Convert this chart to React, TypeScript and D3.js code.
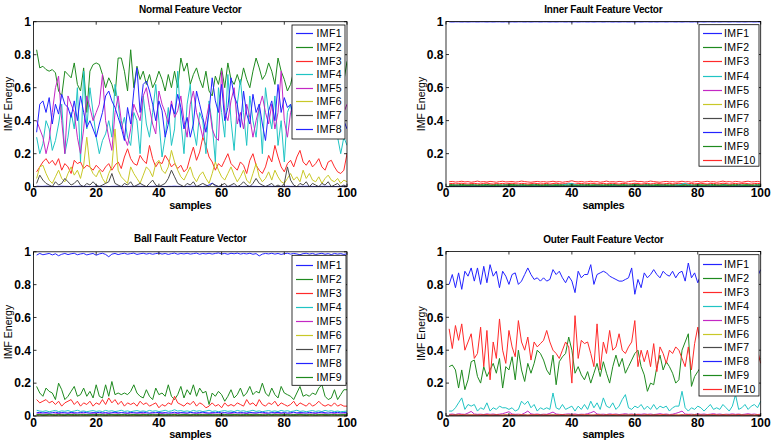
import React from 'react';
import * as d3 from 'd3';

// ---------------- DATA ----------------
const X_TICKS = [0, 20, 40, 60, 80, 100];
const Y_TICKS = [0, 0.2, 0.4, 0.6, 0.8, 1];
const Y_TICK_LABELS = ['0', '0.2', '0.4', '0.6', '0.8', '1'];
const IMF_LABELS = ['IMF1', 'IMF2', 'IMF3', 'IMF4', 'IMF5', 'IMF6', 'IMF7', 'IMF8', 'IMF9', 'IMF10'];
const TITLES = ['Normal Feature Vector', 'Inner Fault Feature Vector', 'Ball Fault Feature Vector', 'Outer Fault Feature Vector'];

// Normal
const normalIMF1 = [
  0.003,0.002,0.002,0.003,0.002,0.002,0.001,0.002,0.003,0.002,
  0.002,0.001,0.002,0.002,0.003,0.002,0.002,0.001,0.002,0.002,
  0.003,0.002,0.002,0.001,0.002,0.002,0.003,0.002,0.002,0.001,
  0.002,0.002,0.003,0.002,0.002,0.001,0.002,0.002,0.003,0.002,
  0.002,0.001,0.002,0.002,0.003,0.002,0.002,0.001,0.002,0.002,
  0.003,0.002,0.002,0.001,0.004,0.010,0.022,0.006,0.002,0.001,
  0.002,0.002,0.003,0.002,0.002,0.001,0.002,0.002,0.003,0.002,
  0.002,0.001,0.002,0.002,0.003,0.002,0.002,0.001,0.002,0.002,
  0.003,0.002,0.002,0.001,0.002,0.002,0.003,0.002,0.002,0.001,
  0.002,0.002,0.003,0.002,0.002,0.001,0.002,0.002,0.003,0.002];
const normalIMF2 = [
  0.83,0.72,0.73,0.71,0.70,0.71,0.69,0.58,0.55,0.70,
  0.68,0.66,0.75,0.62,0.58,0.72,0.45,0.70,0.74,0.75,
  0.74,0.68,0.60,0.66,0.62,0.55,0.78,0.78,0.70,0.58,
  0.83,0.60,0.73,0.65,0.70,0.62,0.68,0.60,0.64,0.70,
  0.65,0.58,0.68,0.60,0.70,0.60,0.78,0.70,0.75,0.62,
  0.68,0.72,0.65,0.60,0.70,0.58,0.55,0.67,0.62,0.72,
  0.60,0.75,0.65,0.62,0.68,0.62,0.72,0.65,0.60,0.70,
  0.78,0.72,0.65,0.68,0.75,0.70,0.62,0.78,0.70,0.65,
  0.58,0.62,0.70,0.65,0.60,0.68,0.72,0.62,0.66,0.70,
  0.64,0.68,0.60,0.72,0.66,0.62,0.70,0.58,0.64,0.76];
const normalIMF3 = [
  0.09,0.12,0.15,0.17,0.14,0.16,0.13,0.17,0.10,0.14,
  0.12,0.08,0.16,0.14,0.15,0.11,0.13,0.12,0.10,0.13,
  0.11,0.09,0.12,0.14,0.10,0.13,0.15,0.11,0.18,0.23,
  0.17,0.14,0.13,0.19,0.16,0.14,0.25,0.17,0.12,0.15,
  0.14,0.19,0.16,0.12,0.14,0.11,0.13,0.09,0.11,0.18,
  0.24,0.16,0.21,0.30,0.25,0.18,0.15,0.10,0.14,0.12,
  0.16,0.20,0.14,0.12,0.10,0.15,0.13,0.08,0.16,0.20,
  0.13,0.10,0.08,0.12,0.19,0.15,0.25,0.18,0.12,0.09,
  0.14,0.16,0.12,0.18,0.22,0.15,0.13,0.16,0.12,0.14,
  0.17,0.12,0.10,0.15,0.16,0.12,0.09,0.08,0.10,0.20];
const normalIMF4 = [
  0.30,0.20,0.26,0.40,0.35,0.22,0.28,0.38,0.50,0.20,
  0.30,0.45,0.35,0.60,0.15,0.70,0.35,0.60,0.45,0.30,
  0.20,0.28,0.32,0.40,0.30,0.62,0.50,0.35,0.42,0.30,
  0.25,0.45,0.40,0.20,0.55,0.38,0.30,0.45,0.62,0.40,
  0.18,0.30,0.48,0.25,0.35,0.70,0.40,0.20,0.50,0.62,
  0.35,0.25,0.45,0.40,0.20,0.52,0.38,0.15,0.60,0.45,
  0.30,0.68,0.40,0.22,0.50,0.65,0.45,0.25,0.55,0.40,
  0.30,0.50,0.20,0.60,0.45,0.35,0.55,0.25,0.40,0.15,
  0.45,0.50,0.35,0.40,0.30,0.45,0.38,0.32,0.42,0.36,
  0.40,0.30,0.38,0.45,0.35,0.40,0.30,0.20,0.30,0.25];
const normalIMF5 = [
  0.40,0.35,0.30,0.20,0.28,0.45,0.60,0.67,0.40,0.20,
  0.55,0.50,0.45,0.30,0.20,0.35,0.55,0.48,0.40,0.45,
  0.50,0.68,0.40,0.30,0.22,0.45,0.55,0.40,0.30,0.25,
  0.35,0.50,0.45,0.40,0.55,0.60,0.48,0.38,0.32,0.58,
  0.50,0.45,0.38,0.52,0.42,0.46,0.55,0.40,0.30,0.50,
  0.58,0.45,0.38,0.30,0.40,0.50,0.35,0.30,0.28,0.70,
  0.45,0.40,0.52,0.60,0.38,0.45,0.35,0.50,0.42,0.30,
  0.40,0.48,0.55,0.45,0.38,0.50,0.35,0.45,0.70,0.40,
  0.30,0.45,0.50,0.38,0.42,0.50,0.46,0.40,0.35,0.48,
  0.44,0.40,0.52,0.36,0.42,0.48,0.40,0.38,0.45,0.50];
const normalIMF6 = [
  0.05,0.12,0.13,0.08,0.04,0.02,0.06,0.10,0.05,0.03,
  0.08,0.12,0.07,0.10,0.05,0.13,0.30,0.12,0.08,0.06,
  0.10,0.05,0.02,0.08,0.12,0.35,0.10,0.06,0.04,0.02,
  0.12,0.08,0.05,0.02,0.07,0.12,0.10,0.06,0.14,0.16,
  0.10,0.08,0.12,0.22,0.15,0.10,0.06,0.04,0.08,0.12,
  0.06,0.03,0.07,0.09,0.05,0.02,0.08,0.15,0.10,0.06,
  0.04,0.08,0.12,0.07,0.03,0.06,0.10,0.04,0.02,0.08,
  0.14,0.06,0.03,0.05,0.09,0.04,0.10,0.06,0.03,0.02,
  0.05,0.08,0.04,0.06,0.03,0.10,0.05,0.08,0.04,0.03,
  0.06,0.02,0.05,0.07,0.04,0.03,0.05,0.02,0.04,0.03];
const normalIMF7 = [
  0.02,0.07,0.04,0.02,0.01,0.00,0.03,0.01,0.02,0.05,
  0.03,0.01,0.02,0.04,0.01,0.00,0.02,0.01,0.03,0.01,
  0.00,0.01,0.02,0.03,0.08,0.02,0.01,0.00,0.02,0.01,
  0.03,0.00,0.01,0.02,0.01,0.00,0.02,0.04,0.01,0.00,
  0.01,0.02,0.05,0.10,0.06,0.02,0.01,0.00,0.02,0.01,
  0.03,0.00,0.01,0.02,0.01,0.00,0.02,0.01,0.00,0.01,
  0.02,0.00,0.01,0.02,0.00,0.01,0.03,0.01,0.00,0.02,
  0.05,0.02,0.01,0.00,0.01,0.02,0.00,0.01,0.00,0.02,
  0.12,0.04,0.01,0.00,0.02,0.01,0.03,0.00,0.02,0.01,
  0.00,0.02,0.01,0.03,0.00,0.01,0.02,0.00,0.01,0.00];
const normalIMF8 = [
  0.33,0.50,0.52,0.45,0.54,0.38,0.50,0.44,0.56,0.50,
  0.48,0.42,0.52,0.40,0.55,0.45,0.36,0.40,0.35,0.30,
  0.38,0.45,0.55,0.58,0.52,0.48,0.42,0.36,0.28,0.48,
  0.38,0.58,0.72,0.45,0.62,0.64,0.58,0.50,0.40,0.52,
  0.46,0.30,0.38,0.50,0.44,0.56,0.48,0.35,0.42,0.30,
  0.38,0.58,0.50,0.42,0.33,0.45,0.66,0.52,0.45,0.62,
  0.40,0.48,0.66,0.55,0.50,0.36,0.58,0.44,0.38,0.56,
  0.45,0.50,0.38,0.28,0.46,0.52,0.40,0.62,0.45,0.54,
  0.48,0.50,0.42,0.48,0.45,0.50,0.46,0.52,0.44,0.48,
  0.50,0.46,0.42,0.50,0.48,0.44,0.46,0.50,0.40,0.35];

// Inner fault
const innerIMF1 = [
  0.998,0.997,0.998,0.998,0.997,0.998,0.997,0.998,0.998,0.997,
  0.998,0.998,0.997,0.998,0.997,0.998,0.998,0.997,0.998,0.997,
  0.998,0.997,0.998,0.998,0.997,0.998,0.997,0.998,0.998,0.997,
  0.998,0.998,0.997,0.998,0.997,0.998,0.998,0.997,0.998,0.997,
  0.998,0.997,0.998,0.998,0.997,0.998,0.997,0.998,0.998,0.997,
  0.998,0.998,0.997,0.998,0.997,0.998,0.998,0.997,0.998,0.997,
  0.998,0.997,0.998,0.998,0.997,0.998,0.997,0.998,0.998,0.997,
  0.998,0.998,0.997,0.998,0.997,0.998,0.998,0.997,0.998,0.997,
  0.998,0.997,0.998,0.998,0.997,0.998,0.997,0.998,0.998,0.997,
  0.998,0.998,0.997,0.998,0.997,0.998,0.998,0.997,0.998,0.997];
const innerIMF2 = [
  0.012,0.013,0.011,0.012,0.014,0.012,0.011,0.013,0.012,0.011,
  0.013,0.012,0.014,0.011,0.012,0.013,0.012,0.011,0.013,0.012,
  0.014,0.012,0.011,0.013,0.012,0.011,0.013,0.012,0.014,0.011,
  0.012,0.013,0.012,0.011,0.013,0.012,0.014,0.012,0.011,0.013,
  0.012,0.011,0.013,0.012,0.014,0.011,0.012,0.013,0.012,0.011,
  0.013,0.012,0.014,0.012,0.011,0.013,0.012,0.011,0.013,0.012,
  0.014,0.011,0.012,0.013,0.012,0.011,0.013,0.012,0.014,0.012,
  0.011,0.013,0.012,0.011,0.013,0.012,0.014,0.011,0.012,0.013,
  0.012,0.011,0.013,0.012,0.014,0.012,0.011,0.013,0.012,0.011,
  0.013,0.012,0.014,0.011,0.012,0.013,0.012,0.011,0.013,0.012];
const innerIMF3 = [
  0.018,0.020,0.017,0.019,0.021,0.018,0.016,0.019,0.020,0.018,
  0.017,0.020,0.022,0.018,0.016,0.019,0.018,0.020,0.017,0.019,
  0.021,0.018,0.017,0.020,0.019,0.016,0.018,0.021,0.019,0.017,
  0.018,0.020,0.016,0.019,0.021,0.018,0.017,0.019,0.022,0.018,
  0.016,0.019,0.020,0.017,0.018,0.021,0.019,0.016,0.018,0.020,
  0.017,0.019,0.021,0.018,0.016,0.020,0.019,0.017,0.018,0.021,
  0.019,0.016,0.018,0.020,0.017,0.019,0.022,0.018,0.016,0.019,
  0.020,0.017,0.018,0.021,0.019,0.016,0.018,0.020,0.017,0.019,
  0.021,0.018,0.016,0.019,0.020,0.017,0.018,0.021,0.019,0.016,
  0.018,0.020,0.017,0.019,0.021,0.018,0.016,0.019,0.020,0.018];
const innerIMF4 = [
  0.008,0.007,0.009,0.008,0.006,0.008,0.009,0.007,0.008,0.006,
  0.008,0.009,0.007,0.008,0.006,0.009,0.008,0.007,0.009,0.008,
  0.006,0.008,0.009,0.007,0.008,0.006,0.008,0.009,0.007,0.008,
  0.006,0.009,0.008,0.007,0.009,0.008,0.010,0.014,0.018,0.020,
  0.012,0.008,0.007,0.009,0.008,0.006,0.008,0.009,0.007,0.008,
  0.006,0.008,0.009,0.007,0.008,0.006,0.009,0.008,0.007,0.009,
  0.008,0.006,0.008,0.009,0.007,0.008,0.006,0.008,0.009,0.007,
  0.008,0.006,0.009,0.010,0.016,0.020,0.012,0.008,0.007,0.009,
  0.008,0.006,0.008,0.009,0.007,0.008,0.006,0.008,0.009,0.007,
  0.008,0.006,0.009,0.008,0.007,0.009,0.008,0.006,0.008,0.009];
const innerIMF5 = [
  0.004,0.005,0.003,0.004,0.005,0.004,0.003,0.004,0.005,0.004,
  0.003,0.004,0.005,0.004,0.003,0.005,0.004,0.003,0.004,0.005,
  0.004,0.003,0.004,0.005,0.004,0.003,0.005,0.004,0.003,0.004,
  0.005,0.004,0.003,0.004,0.005,0.004,0.003,0.005,0.004,0.003,
  0.004,0.005,0.004,0.003,0.004,0.005,0.004,0.003,0.005,0.004,
  0.003,0.004,0.005,0.004,0.003,0.004,0.005,0.004,0.003,0.005,
  0.004,0.003,0.004,0.005,0.004,0.003,0.005,0.004,0.003,0.004,
  0.005,0.004,0.003,0.004,0.005,0.004,0.003,0.005,0.004,0.003,
  0.004,0.005,0.004,0.003,0.004,0.005,0.004,0.003,0.005,0.004,
  0.003,0.004,0.005,0.004,0.003,0.004,0.005,0.004,0.003,0.004];
const innerIMF6 = [
  0.003,0.002,0.003,0.003,0.002,0.003,0.002,0.003,0.003,0.002,
  0.003,0.003,0.002,0.003,0.002,0.003,0.003,0.002,0.003,0.002,
  0.003,0.002,0.003,0.003,0.002,0.003,0.002,0.003,0.003,0.002,
  0.003,0.003,0.002,0.003,0.002,0.003,0.003,0.002,0.003,0.002,
  0.003,0.002,0.003,0.003,0.002,0.003,0.002,0.003,0.003,0.002,
  0.003,0.003,0.002,0.003,0.002,0.003,0.003,0.002,0.003,0.002,
  0.003,0.002,0.003,0.003,0.002,0.003,0.002,0.003,0.003,0.002,
  0.003,0.003,0.002,0.003,0.002,0.003,0.003,0.002,0.003,0.002,
  0.003,0.002,0.003,0.003,0.002,0.003,0.002,0.003,0.003,0.002,
  0.003,0.003,0.002,0.003,0.002,0.003,0.003,0.002,0.003,0.002];
const innerIMF7 = [
  0.002,0.001,0.002,0.002,0.001,0.002,0.001,0.002,0.002,0.001,
  0.002,0.002,0.001,0.002,0.001,0.002,0.002,0.001,0.002,0.001,
  0.002,0.001,0.002,0.002,0.001,0.002,0.001,0.002,0.002,0.001,
  0.002,0.002,0.001,0.002,0.001,0.002,0.002,0.001,0.002,0.001,
  0.002,0.001,0.002,0.002,0.001,0.002,0.001,0.002,0.002,0.001,
  0.002,0.002,0.001,0.002,0.001,0.002,0.002,0.001,0.002,0.001,
  0.002,0.001,0.002,0.002,0.001,0.002,0.001,0.002,0.002,0.001,
  0.002,0.002,0.001,0.002,0.001,0.002,0.002,0.001,0.002,0.001,
  0.002,0.001,0.002,0.002,0.001,0.002,0.001,0.002,0.002,0.001,
  0.002,0.002,0.001,0.002,0.001,0.002,0.002,0.001,0.002,0.001];
const innerIMF8 = [
  0.003,0.003,0.004,0.003,0.003,0.004,0.003,0.003,0.004,0.003,
  0.003,0.004,0.003,0.003,0.004,0.003,0.003,0.004,0.003,0.003,
  0.004,0.003,0.003,0.004,0.003,0.003,0.004,0.003,0.003,0.004,
  0.003,0.003,0.004,0.003,0.003,0.004,0.003,0.003,0.004,0.003,
  0.003,0.004,0.003,0.003,0.004,0.003,0.003,0.004,0.003,0.003,
  0.004,0.003,0.003,0.004,0.003,0.003,0.004,0.003,0.003,0.004,
  0.003,0.003,0.004,0.003,0.003,0.004,0.003,0.003,0.004,0.003,
  0.003,0.004,0.003,0.003,0.004,0.003,0.003,0.004,0.003,0.003,
  0.004,0.003,0.003,0.004,0.003,0.003,0.004,0.003,0.003,0.004,
  0.003,0.003,0.004,0.003,0.003,0.004,0.003,0.003,0.004,0.003];
const innerIMF9 = [
  0.006,0.007,0.006,0.005,0.007,0.006,0.008,0.006,0.005,0.007,
  0.006,0.007,0.005,0.006,0.008,0.006,0.007,0.005,0.006,0.007,
  0.006,0.008,0.006,0.005,0.007,0.006,0.007,0.005,0.006,0.008,
  0.006,0.007,0.005,0.006,0.007,0.006,0.008,0.006,0.005,0.007,
  0.006,0.007,0.005,0.006,0.008,0.006,0.007,0.005,0.006,0.007,
  0.006,0.008,0.006,0.005,0.007,0.006,0.007,0.005,0.006,0.008,
  0.006,0.007,0.005,0.006,0.007,0.006,0.008,0.006,0.005,0.007,
  0.006,0.007,0.005,0.006,0.008,0.006,0.007,0.005,0.006,0.007,
  0.006,0.008,0.006,0.005,0.007,0.006,0.007,0.005,0.006,0.008,
  0.006,0.007,0.005,0.006,0.007,0.006,0.008,0.006,0.005,0.007];
const innerIMF10 = [
  0.030,0.032,0.028,0.030,0.033,0.029,0.031,0.027,0.030,0.034,
  0.029,0.031,0.028,0.032,0.030,0.027,0.031,0.033,0.029,0.030,
  0.032,0.028,0.030,0.034,0.031,0.029,0.027,0.030,0.032,0.029,
  0.031,0.028,0.030,0.033,0.029,0.031,0.027,0.030,0.032,0.036,
  0.031,0.029,0.032,0.028,0.030,0.033,0.029,0.031,0.027,0.030,
  0.034,0.029,0.031,0.028,0.032,0.030,0.027,0.031,0.033,0.035,
  0.030,0.032,0.028,0.030,0.034,0.031,0.029,0.027,0.030,0.032,
  0.029,0.031,0.028,0.030,0.033,0.029,0.031,0.027,0.030,0.032,
  0.028,0.030,0.033,0.029,0.031,0.027,0.030,0.034,0.029,0.031,
  0.028,0.032,0.030,0.027,0.031,0.033,0.029,0.030,0.032,0.028];

// Ball fault
const ballIMF1 = [
  0.980,0.990,0.982,0.986,0.990,0.981,0.988,0.976,0.985,0.990,
  0.983,0.988,0.991,0.982,0.987,0.990,0.981,0.986,0.990,0.979,
  0.987,0.991,0.984,0.970,0.986,0.990,0.983,0.988,0.991,0.985,
  0.989,0.992,0.984,0.988,0.991,0.986,0.990,0.985,0.989,0.992,
  0.986,0.990,0.984,0.989,0.992,0.985,0.990,0.987,0.991,0.986,
  0.989,0.992,0.985,0.990,0.987,0.991,0.986,0.990,0.993,0.987,
  0.990,0.985,0.991,0.988,0.992,0.986,0.990,0.987,0.991,0.985,
  0.989,0.975,0.986,0.990,0.987,0.991,0.986,0.990,0.984,0.989,
  0.991,0.986,0.990,0.987,0.982,0.989,0.991,0.986,0.990,0.984,
  0.988,0.991,0.985,0.989,0.983,0.990,0.986,0.989,0.984,0.988];
const ballIMF2 = [
  0.18,0.14,0.12,0.17,0.15,0.14,0.10,0.20,0.16,0.10,
  0.12,0.15,0.18,0.12,0.13,0.17,0.12,0.15,0.11,0.19,
  0.12,0.11,0.19,0.12,0.21,0.13,0.14,0.13,0.14,0.13,
  0.15,0.19,0.14,0.12,0.11,0.16,0.12,0.10,0.17,0.13,
  0.14,0.12,0.19,0.12,0.10,0.13,0.18,0.11,0.16,0.13,
  0.19,0.12,0.17,0.14,0.15,0.07,0.14,0.12,0.15,0.13,
  0.09,0.12,0.16,0.11,0.13,0.17,0.12,0.14,0.18,0.13,
  0.15,0.14,0.20,0.14,0.12,0.17,0.13,0.11,0.18,0.14,
  0.13,0.12,0.10,0.14,0.18,0.12,0.13,0.12,0.14,0.13,
  0.17,0.19,0.12,0.10,0.11,0.16,0.10,0.13,0.16,0.16];
const ballIMF3 = [
  0.10,0.08,0.09,0.10,0.08,0.09,0.07,0.09,0.06,0.08,
  0.09,0.10,0.07,0.09,0.06,0.08,0.07,0.09,0.06,0.08,
  0.07,0.10,0.07,0.11,0.08,0.10,0.07,0.09,0.06,0.08,
  0.07,0.08,0.06,0.09,0.07,0.08,0.06,0.07,0.08,0.05,
  0.07,0.06,0.08,0.07,0.12,0.08,0.07,0.06,0.08,0.07,
  0.09,0.06,0.08,0.07,0.05,0.06,0.08,0.06,0.07,0.05,
  0.08,0.06,0.07,0.06,0.08,0.07,0.06,0.10,0.07,0.08,
  0.06,0.10,0.07,0.06,0.08,0.07,0.09,0.06,0.08,0.07,
  0.06,0.07,0.09,0.06,0.08,0.07,0.06,0.08,0.06,0.07,
  0.09,0.07,0.06,0.07,0.06,0.08,0.06,0.07,0.06,0.06];
const ballIMF4 = [
  0.035,0.030,0.028,0.032,0.026,0.030,0.034,0.027,0.031,0.029,
  0.033,0.027,0.030,0.035,0.028,0.031,0.026,0.030,0.033,0.028,
  0.031,0.027,0.034,0.029,0.032,0.027,0.030,0.035,0.028,0.031,
  0.026,0.030,0.033,0.028,0.031,0.027,0.034,0.029,0.032,0.027,
  0.030,0.035,0.028,0.031,0.038,0.030,0.033,0.028,0.031,0.027,
  0.034,0.029,0.032,0.027,0.030,0.035,0.028,0.031,0.026,0.030,
  0.033,0.028,0.031,0.027,0.034,0.029,0.032,0.027,0.030,0.035,
  0.028,0.031,0.026,0.030,0.033,0.028,0.031,0.027,0.034,0.029,
  0.032,0.027,0.030,0.035,0.028,0.031,0.026,0.030,0.033,0.028,
  0.031,0.027,0.034,0.029,0.032,0.027,0.030,0.026,0.028,0.030];
const ballIMF5 = [
  0.012,0.014,0.011,0.013,0.012,0.010,0.013,0.015,0.012,0.011,
  0.013,0.012,0.014,0.011,0.012,0.013,0.010,0.012,0.014,0.012,
  0.011,0.013,0.012,0.015,0.011,0.012,0.013,0.010,0.012,0.014,
  0.012,0.011,0.013,0.012,0.014,0.011,0.012,0.013,0.010,0.012,
  0.014,0.012,0.011,0.013,0.012,0.015,0.011,0.012,0.013,0.010,
  0.012,0.014,0.012,0.011,0.013,0.012,0.014,0.011,0.012,0.013,
  0.010,0.012,0.014,0.012,0.011,0.013,0.012,0.015,0.011,0.012,
  0.013,0.010,0.012,0.014,0.012,0.011,0.013,0.012,0.014,0.011,
  0.012,0.013,0.010,0.012,0.014,0.012,0.011,0.013,0.012,0.015,
  0.011,0.012,0.013,0.010,0.012,0.014,0.012,0.011,0.013,0.012];
const ballIMF6 = [
  0.004,0.005,0.004,0.003,0.005,0.004,0.004,0.005,0.003,0.004,
  0.005,0.004,0.003,0.004,0.005,0.004,0.004,0.003,0.005,0.004,
  0.004,0.005,0.003,0.004,0.005,0.004,0.003,0.004,0.005,0.004,
  0.004,0.003,0.005,0.004,0.004,0.005,0.003,0.004,0.005,0.004,
  0.003,0.004,0.005,0.004,0.004,0.003,0.005,0.004,0.004,0.005,
  0.003,0.004,0.005,0.004,0.003,0.004,0.005,0.004,0.004,0.003,
  0.005,0.004,0.004,0.005,0.003,0.004,0.005,0.004,0.003,0.004,
  0.005,0.004,0.004,0.003,0.005,0.004,0.004,0.005,0.003,0.004,
  0.005,0.004,0.003,0.004,0.005,0.004,0.004,0.003,0.005,0.004,
  0.004,0.005,0.003,0.004,0.005,0.004,0.003,0.004,0.005,0.004];
const ballIMF7 = [
  0.006,0.007,0.005,0.006,0.007,0.006,0.005,0.007,0.006,0.005,
  0.007,0.006,0.005,0.006,0.007,0.005,0.006,0.007,0.006,0.005,
  0.007,0.006,0.005,0.006,0.007,0.006,0.005,0.007,0.006,0.005,
  0.006,0.007,0.005,0.006,0.007,0.006,0.005,0.007,0.006,0.005,
  0.007,0.006,0.005,0.006,0.007,0.005,0.006,0.007,0.006,0.005,
  0.007,0.006,0.005,0.006,0.007,0.006,0.005,0.007,0.006,0.005,
  0.006,0.007,0.005,0.006,0.007,0.006,0.005,0.007,0.006,0.005,
  0.007,0.006,0.005,0.006,0.007,0.005,0.006,0.007,0.006,0.005,
  0.007,0.006,0.005,0.006,0.007,0.006,0.005,0.007,0.006,0.005,
  0.006,0.007,0.005,0.006,0.007,0.006,0.005,0.007,0.006,0.005];
const ballIMF8 = [
  0.020,0.022,0.019,0.021,0.018,0.020,0.023,0.019,0.021,0.020,
  0.018,0.022,0.020,0.019,0.021,0.023,0.020,0.018,0.021,0.020,
  0.022,0.019,0.021,0.018,0.020,0.023,0.019,0.021,0.020,0.018,
  0.022,0.020,0.019,0.021,0.023,0.020,0.018,0.021,0.020,0.022,
  0.019,0.021,0.018,0.020,0.023,0.019,0.021,0.020,0.018,0.022,
  0.020,0.019,0.021,0.023,0.020,0.018,0.021,0.020,0.022,0.019,
  0.021,0.018,0.020,0.023,0.019,0.021,0.020,0.018,0.022,0.020,
  0.019,0.021,0.023,0.020,0.018,0.021,0.020,0.022,0.019,0.021,
  0.018,0.020,0.023,0.019,0.021,0.020,0.018,0.022,0.020,0.019,
  0.021,0.023,0.020,0.018,0.021,0.020,0.022,0.019,0.021,0.020];
const ballIMF9 = [
  0.008,0.009,0.007,0.008,0.010,0.008,0.007,0.009,0.008,0.007,
  0.009,0.008,0.010,0.007,0.008,0.009,0.008,0.007,0.009,0.008,
  0.010,0.008,0.007,0.009,0.008,0.007,0.009,0.008,0.010,0.007,
  0.008,0.009,0.008,0.007,0.009,0.008,0.010,0.008,0.007,0.009,
  0.008,0.007,0.009,0.008,0.010,0.007,0.008,0.009,0.008,0.007,
  0.009,0.008,0.010,0.008,0.007,0.009,0.008,0.007,0.009,0.008,
  0.010,0.007,0.008,0.009,0.008,0.007,0.009,0.008,0.010,0.008,
  0.007,0.009,0.008,0.007,0.009,0.008,0.010,0.007,0.008,0.009,
  0.008,0.007,0.009,0.008,0.010,0.008,0.007,0.009,0.008,0.007,
  0.009,0.008,0.010,0.007,0.008,0.009,0.008,0.007,0.009,0.008];

// Outer fault
const outerIMF1 = [
  0.80,0.86,0.78,0.87,0.77,0.88,0.85,0.90,0.82,0.90,
  0.80,0.91,0.81,0.92,0.85,0.88,0.78,0.88,0.85,0.80,
  0.86,0.87,0.80,0.82,0.86,0.90,0.86,0.83,0.84,0.82,
  0.84,0.82,0.83,0.89,0.86,0.88,0.84,0.81,0.85,0.82,
  0.75,0.88,0.84,0.86,0.86,0.92,0.80,0.86,0.87,0.88,
  0.87,0.85,0.84,0.83,0.82,0.82,0.83,0.84,0.90,0.74,
  0.83,0.78,0.87,0.84,0.86,0.89,0.86,0.84,0.88,0.86,
  0.85,0.88,0.84,0.87,0.88,0.82,0.93,0.84,0.87,0.81,
  0.86,0.84,0.88,0.85,0.82,0.87,0.85,0.89,0.83,0.86,
  0.84,0.88,0.82,0.86,0.85,0.87,0.83,0.86,0.85,0.89];
const outerIMF2 = [
  0.30,0.31,0.28,0.17,0.28,0.16,0.22,0.33,0.34,0.24,
  0.20,0.30,0.24,0.28,0.32,0.26,0.35,0.17,0.30,0.28,
  0.36,0.22,0.40,0.28,0.21,0.32,0.26,0.32,0.40,0.38,
  0.34,0.28,0.25,0.37,0.19,0.33,0.36,0.38,0.48,0.40,
  0.26,0.30,0.25,0.22,0.27,0.20,0.26,0.32,0.24,0.33,
  0.26,0.20,0.30,0.37,0.30,0.35,0.26,0.30,0.34,0.38,
  0.40,0.30,0.25,0.15,0.20,0.19,0.30,0.37,0.28,0.33,
  0.30,0.26,0.20,0.22,0.40,0.45,0.50,0.18,0.24,0.27,
  0.30,0.26,0.34,0.28,0.24,0.32,0.27,0.30,0.25,0.33,
  0.28,0.31,0.26,0.30,0.34,0.27,0.31,0.28,0.33,0.35];
const outerIMF3 = [
  0.53,0.41,0.55,0.46,0.56,0.40,0.45,0.50,0.35,0.38,
  0.54,0.30,0.52,0.22,0.45,0.35,0.59,0.40,0.32,0.52,
  0.42,0.36,0.58,0.45,0.40,0.48,0.34,0.45,0.42,0.44,
  0.46,0.52,0.45,0.40,0.38,0.35,0.40,0.45,0.42,0.20,
  0.61,0.35,0.46,0.44,0.45,0.38,0.30,0.56,0.28,0.45,
  0.38,0.52,0.40,0.42,0.50,0.40,0.38,0.42,0.45,0.58,
  0.30,0.40,0.33,0.40,0.30,0.44,0.27,0.42,0.38,0.32,
  0.40,0.38,0.42,0.40,0.35,0.30,0.42,0.28,0.44,0.54,
  0.40,0.45,0.36,0.48,0.42,0.38,0.46,0.40,0.44,0.37,
  0.45,0.41,0.38,0.46,0.40,0.43,0.37,0.42,0.40,0.32];
const outerIMF4 = [
  0.03,0.03,0.05,0.08,0.11,0.04,0.07,0.06,0.07,0.03,
  0.05,0.04,0.08,0.03,0.05,0.04,0.06,0.05,0.05,0.04,
  0.05,0.03,0.04,0.09,0.07,0.09,0.05,0.07,0.03,0.05,
  0.04,0.05,0.04,0.14,0.05,0.04,0.07,0.04,0.05,0.06,
  0.03,0.06,0.04,0.07,0.04,0.09,0.05,0.08,0.04,0.11,
  0.06,0.05,0.08,0.04,0.06,0.10,0.13,0.05,0.04,0.06,
  0.05,0.07,0.04,0.06,0.04,0.07,0.04,0.06,0.05,0.06,
  0.03,0.05,0.06,0.06,0.15,0.05,0.03,0.05,0.04,0.06,
  0.05,0.03,0.05,0.07,0.04,0.05,0.04,0.07,0.05,0.03,
  0.06,0.13,0.04,0.05,0.07,0.04,0.06,0.07,0.05,0.09];
const outerIMF5 = [
  0.010,0.012,0.009,0.014,0.011,0.010,0.018,0.028,0.012,0.010,
  0.011,0.009,0.013,0.010,0.012,0.009,0.011,0.014,0.020,0.026,
  0.012,0.010,0.011,0.009,0.018,0.030,0.013,0.010,0.012,0.009,
  0.011,0.010,0.016,0.024,0.012,0.010,0.009,0.011,0.013,0.010,
  0.012,0.009,0.011,0.010,0.014,0.020,0.028,0.012,0.010,0.011,
  0.009,0.013,0.010,0.012,0.009,0.011,0.014,0.010,0.012,0.009,
  0.011,0.010,0.013,0.010,0.012,0.009,0.011,0.014,0.010,0.012,
  0.009,0.011,0.016,0.022,0.030,0.012,0.010,0.011,0.009,0.013,
  0.010,0.012,0.009,0.011,0.014,0.010,0.012,0.009,0.011,0.010,
  0.013,0.010,0.012,0.009,0.011,0.014,0.010,0.012,0.009,0.011];
const outerIMF6 = [
  0.004,0.003,0.004,0.005,0.003,0.004,0.003,0.004,0.005,0.003,
  0.004,0.003,0.004,0.005,0.003,0.004,0.003,0.004,0.005,0.003,
  0.004,0.003,0.004,0.005,0.003,0.004,0.003,0.004,0.005,0.003,
  0.004,0.003,0.004,0.005,0.003,0.004,0.003,0.004,0.005,0.003,
  0.004,0.003,0.004,0.005,0.003,0.004,0.003,0.004,0.005,0.003,
  0.004,0.003,0.004,0.005,0.003,0.004,0.003,0.004,0.005,0.003,
  0.004,0.003,0.004,0.005,0.003,0.004,0.003,0.004,0.005,0.003,
  0.004,0.003,0.004,0.005,0.003,0.004,0.003,0.004,0.005,0.003,
  0.004,0.003,0.004,0.005,0.003,0.004,0.003,0.004,0.005,0.003,
  0.004,0.003,0.004,0.005,0.003,0.004,0.003,0.004,0.005,0.003];
const outerIMF7 = [
  0.002,0.003,0.002,0.002,0.003,0.002,0.002,0.003,0.002,0.002,
  0.003,0.002,0.002,0.003,0.002,0.002,0.003,0.002,0.002,0.003,
  0.002,0.002,0.003,0.002,0.002,0.003,0.002,0.002,0.003,0.002,
  0.002,0.003,0.002,0.002,0.003,0.002,0.002,0.003,0.002,0.002,
  0.003,0.002,0.002,0.003,0.002,0.002,0.003,0.002,0.002,0.003,
  0.002,0.002,0.003,0.002,0.002,0.003,0.002,0.002,0.003,0.002,
  0.002,0.003,0.002,0.002,0.003,0.002,0.002,0.003,0.002,0.002,
  0.003,0.002,0.002,0.003,0.002,0.002,0.003,0.002,0.002,0.003,
  0.002,0.002,0.003,0.002,0.002,0.003,0.002,0.002,0.003,0.002,
  0.002,0.003,0.002,0.002,0.003,0.002,0.002,0.003,0.002,0.002];
const outerIMF8 = [
  0.003,0.004,0.003,0.003,0.004,0.003,0.004,0.003,0.003,0.004,
  0.003,0.004,0.003,0.003,0.004,0.003,0.004,0.003,0.003,0.004,
  0.003,0.004,0.003,0.003,0.004,0.003,0.004,0.003,0.003,0.004,
  0.003,0.004,0.003,0.003,0.004,0.003,0.004,0.003,0.003,0.004,
  0.003,0.004,0.003,0.003,0.004,0.003,0.004,0.003,0.003,0.004,
  0.003,0.004,0.003,0.003,0.004,0.003,0.004,0.003,0.003,0.004,
  0.003,0.004,0.003,0.003,0.004,0.003,0.004,0.003,0.003,0.004,
  0.003,0.004,0.003,0.003,0.004,0.003,0.004,0.003,0.003,0.004,
  0.003,0.004,0.003,0.003,0.004,0.003,0.004,0.003,0.003,0.004,
  0.003,0.004,0.003,0.003,0.004,0.003,0.004,0.003,0.003,0.004];
const outerIMF9 = [
  0.005,0.004,0.006,0.005,0.004,0.005,0.006,0.004,0.005,0.005,
  0.004,0.006,0.005,0.004,0.005,0.006,0.004,0.005,0.005,0.004,
  0.006,0.005,0.004,0.005,0.006,0.004,0.005,0.005,0.004,0.006,
  0.005,0.004,0.005,0.006,0.004,0.005,0.005,0.004,0.006,0.005,
  0.004,0.005,0.006,0.004,0.005,0.005,0.004,0.006,0.005,0.004,
  0.005,0.006,0.004,0.005,0.005,0.004,0.006,0.005,0.004,0.005,
  0.006,0.004,0.005,0.005,0.004,0.006,0.005,0.004,0.005,0.006,
  0.004,0.005,0.005,0.004,0.006,0.005,0.004,0.005,0.006,0.004,
  0.005,0.005,0.004,0.006,0.005,0.004,0.005,0.006,0.004,0.005,
  0.005,0.004,0.006,0.005,0.004,0.005,0.006,0.004,0.005,0.005];
const outerIMF10 = [
  0.006,0.007,0.005,0.006,0.008,0.006,0.005,0.007,0.006,0.005,
  0.007,0.006,0.008,0.005,0.006,0.007,0.006,0.005,0.007,0.006,
  0.008,0.006,0.005,0.007,0.006,0.005,0.007,0.006,0.008,0.005,
  0.006,0.007,0.006,0.005,0.007,0.006,0.008,0.006,0.005,0.007,
  0.006,0.005,0.007,0.006,0.008,0.005,0.006,0.007,0.006,0.005,
  0.007,0.006,0.008,0.006,0.005,0.007,0.006,0.005,0.007,0.006,
  0.008,0.005,0.006,0.007,0.006,0.005,0.007,0.006,0.008,0.006,
  0.005,0.007,0.006,0.005,0.007,0.006,0.008,0.005,0.006,0.007,
  0.006,0.005,0.007,0.006,0.008,0.006,0.005,0.007,0.006,0.005,
  0.007,0.006,0.008,0.005,0.006,0.007,0.006,0.005,0.007,0.006];

// ---------------- STYLE / LAYOUT ----------------
const COLORS = ['#2323ff', '#1f8a1f', '#ff2a2a', '#20c4c4', '#c428c4', '#c8c828', '#4a4a4a'];
const FONT = 'Liberation Sans, Arial, sans-serif';

type PanelCfg = {
  title: string;
  series: number[][];
  x0: number; x1: number; yTop: number; yBot: number;
  titleY: number;
  legend: { x: number; y: number; w: number; h: number; row0: number; dy: number; lx0: number; lx1: number; tx: number };
  yLabelX: number; yLabelY: number;
};

const PANELS: PanelCfg[] = [
  {
    title: TITLES[0],
    series: [normalIMF1, normalIMF2, normalIMF3, normalIMF4, normalIMF5, normalIMF6, normalIMF7, normalIMF8],
    x0: 33.5, x1: 347, yTop: 21.7, yBot: 186.7, titleY: 13,
    legend: { x: 292, y: 25, w: 53, h: 114, row0: 33.3, dy: 13.63, lx0: 296, lx1: 313, tx: 316.5 },
    yLabelX: 12, yLabelY: 104,
  },
  {
    title: TITLES[1],
    series: [innerIMF1, innerIMF2, innerIMF3, innerIMF4, innerIMF5, innerIMF6, innerIMF7, innerIMF8, innerIMF9, innerIMF10],
    x0: 446, x1: 760.7, yTop: 21.5, yBot: 186.7, titleY: 13,
    legend: { x: 699, y: 24.7, w: 60, h: 141.5, row0: 33.3, dy: 14.08, lx0: 703, lx1: 722, tx: 724 },
    yLabelX: 425, yLabelY: 104,
  },
  {
    title: TITLES[2],
    series: [ballIMF1, ballIMF2, ballIMF3, ballIMF4, ballIMF5, ballIMF6, ballIMF7, ballIMF8, ballIMF9],
    x0: 33.5, x1: 347, yTop: 251.8, yBot: 416, titleY: 242,
    legend: { x: 292, y: 255.3, w: 54, h: 130, row0: 264.7, dy: 14.04, lx0: 296, lx1: 313, tx: 316.5 },
    yLabelX: 12, yLabelY: 332,
  },
  {
    title: TITLES[3],
    series: [outerIMF1, outerIMF2, outerIMF3, outerIMF4, outerIMF5, outerIMF6, outerIMF7, outerIMF8, outerIMF9, outerIMF10],
    x0: 446, x1: 760.7, yTop: 251.5, yBot: 416, titleY: 242.5,
    legend: { x: 699, y: 254.7, w: 60, h: 141.3, row0: 263.7, dy: 13.96, lx0: 703, lx1: 722, tx: 724 },
    yLabelX: 425, yLabelY: 333.5,
  },
];

function Panel({ cfg, idx }: { cfg: PanelCfg; idx: number }) {
  const xs = d3.scaleLinear().domain([0, 100]).range([cfg.x0, cfg.x1]);
  const ys = d3.scaleLinear().domain([0, 1]).range([cfg.yBot, cfg.yTop]);
  const line = d3.line<number>().x((_, i) => xs(i + 1)).y((d) => ys(d));
  const clipId = `clip${idx}`;
  const tl = 3;
  const L = cfg.legend;
  const cx = (cfg.x0 + cfg.x1) / 2;
  return (
    <g>
      <defs>
        <clipPath id={clipId}>
          <rect x={cfg.x0} y={cfg.yTop} width={cfg.x1 - cfg.x0} height={cfg.yBot - cfg.yTop} />
        </clipPath>
      </defs>
      <rect x={cfg.x0} y={cfg.yTop} width={cfg.x1 - cfg.x0} height={cfg.yBot - cfg.yTop} fill="#fff" />
      <g clipPath={`url(#${clipId})`}>
        {cfg.series.map((s, i) => (
          <path key={i} d={line(s) || ''} fill="none" stroke={COLORS[i % COLORS.length]} strokeWidth={1} />
        ))}
      </g>
      {X_TICKS.map((t) => (
        <g key={'x' + t}>
          <line x1={xs(t)} x2={xs(t)} y1={cfg.yBot} y2={cfg.yBot - tl} stroke="#000" strokeWidth={0.8} />
          <line x1={xs(t)} x2={xs(t)} y1={cfg.yTop} y2={cfg.yTop + tl} stroke="#000" strokeWidth={0.8} />
          <text x={xs(t)} y={cfg.yBot + 10.5} textAnchor="middle" fontFamily={FONT} fontWeight="bold" fontSize={12} fill="#000">{t}</text>
        </g>
      ))}
      {Y_TICKS.map((t, i) => (
        <g key={'y' + t}>
          <line x1={cfg.x0} x2={cfg.x0 + tl} y1={ys(t)} y2={ys(t)} stroke="#000" strokeWidth={0.8} />
          <line x1={cfg.x1} x2={cfg.x1 - tl} y1={ys(t)} y2={ys(t)} stroke="#000" strokeWidth={0.8} />
          <text x={cfg.x0 - 2.5} y={ys(t) + 4.3} textAnchor="end" fontFamily={FONT} fontWeight="bold" fontSize={12} fill="#000">{Y_TICK_LABELS[i]}</text>
        </g>
      ))}
      <rect x={cfg.x0} y={cfg.yTop} width={cfg.x1 - cfg.x0} height={cfg.yBot - cfg.yTop} fill="none" stroke="#000" strokeWidth={0.8} />
      <text x={cx} y={cfg.titleY} textAnchor="middle" fontFamily={FONT} fontWeight="bold" fontSize={10} letterSpacing={-0.2} fill="#000">{cfg.title}</text>
      <text x={cx} y={cfg.yBot + 22} textAnchor="middle" fontFamily={FONT} fontWeight="bold" fontSize={11} letterSpacing={-0.3} fill="#000">samples</text>
      <text transform={`translate(${cfg.yLabelX},${cfg.yLabelY}) rotate(-90)`} textAnchor="middle" fontFamily={FONT} fontSize={10.5} fill="#000">IMF Energy</text>
      <rect x={L.x} y={L.y} width={L.w} height={L.h} fill="#fff" stroke="#000" strokeWidth={0.8} />
      {cfg.series.map((_, i) => {
        const ry = Math.round(L.row0 + i * L.dy) + 0.5;
        return (
          <g key={'l' + i}>
            <line x1={L.lx0} x2={L.lx1} y1={ry} y2={ry} stroke={COLORS[i % COLORS.length]} strokeWidth={1.2} />
            <text x={L.tx} y={ry + 3.7} fontFamily={FONT} fontSize={10.5} letterSpacing={0.4} fill="#000">{IMF_LABELS[i]}</text>
          </g>
        );
      })}
    </g>
  );
}

export default function App() {
  return (
    <svg width={773} height={444} style={{ position: 'absolute', left: 0, top: 0, background: '#fff' }}>
      <rect x={0} y={0} width={773} height={444} fill="#fff" />
      {PANELS.map((p, i) => (
        <Panel key={i} cfg={p} idx={i} />
      ))}
    </svg>
  );
}
